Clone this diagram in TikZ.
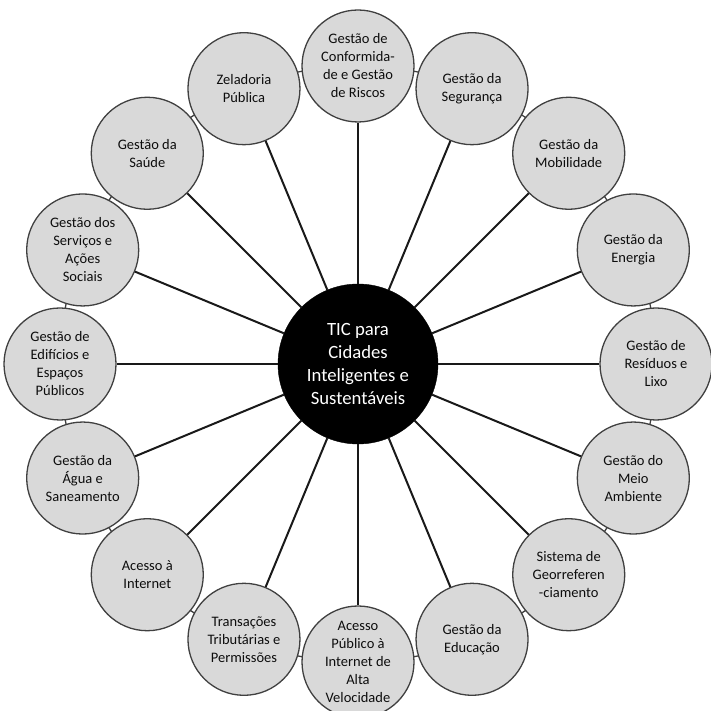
\documentclass[tikz,border=0pt]{standalone}
\usepackage{fontspec}
\setmainfont{Carlito}
\usetikzlibrary{calc}
\begin{document}
\begin{tikzpicture}[x=1pt,y=1pt,
  topic/.style={circle, draw=black!75, line width=1.3pt, fill=black!15,
    minimum size=112pt, inner sep=0pt, align=center, text=black!95,
    font=\fontsize{14.5}{18}\selectfont},
  hub/.style={circle, fill=black, draw=black, minimum size=160pt,
    inner sep=0pt, align=center, text=white,
    font=\fontsize{18.7}{23}\selectfont},
  spoke/.style={line width=2pt, black!90},
  ring/.style={line width=1.3pt, black!75}]
\useasboundingbox (0,0) rectangle (711,711);
\coordinate (o) at (358,347);
% ring that links the outer topics
\draw[ring] (o) circle (298);
\node[hub] (hub) at (o) {TIC para\\Cidades\\Inteligentes e\\Sustentáveis};
\foreach \name/\ang/\txt in {
  res/0/{Gestão de\\Resíduos e\\Lixo},
  ene/22.5/{Gestão da\\Energia},
  mob/45/{Gestão da\\Mobilidade},
  seg/67.5/{Gestão da\\Segurança},
  con/90/{Gestão de\\Conformida-\\de e Gestão\\de Riscos},
  zel/112.5/{Zeladoria\\Pública},
  sau/135/{Gestão da\\Saúde},
  soc/157.5/{Gestão dos\\Serviços e\\Ações\\Sociais},
  edi/180/{Gestão de\\Edifícios e\\Espaços\\Públicos},
  agu/202.5/{Gestão da\\Água e\\Saneamento},
  int/225/{Acesso à\\Internet},
  tri/247.5/{Transações\\Tributárias e\\Permissões},
  pub/270/{Acesso\\Público à\\Internet de\\Alta\\Velocidade},
  edu/292.5/{Gestão da\\Educação},
  geo/315/{Sistema de\\Georreferen\\-ciamento},
  amb/337.5/{Gestão do\\Meio\\Ambiente}}
{
  \node[topic] (\name) at ($(o)+(\ang:298)$) {\txt};
  \draw[spoke] (hub) -- (\name);
}
\end{tikzpicture}
\end{document}
